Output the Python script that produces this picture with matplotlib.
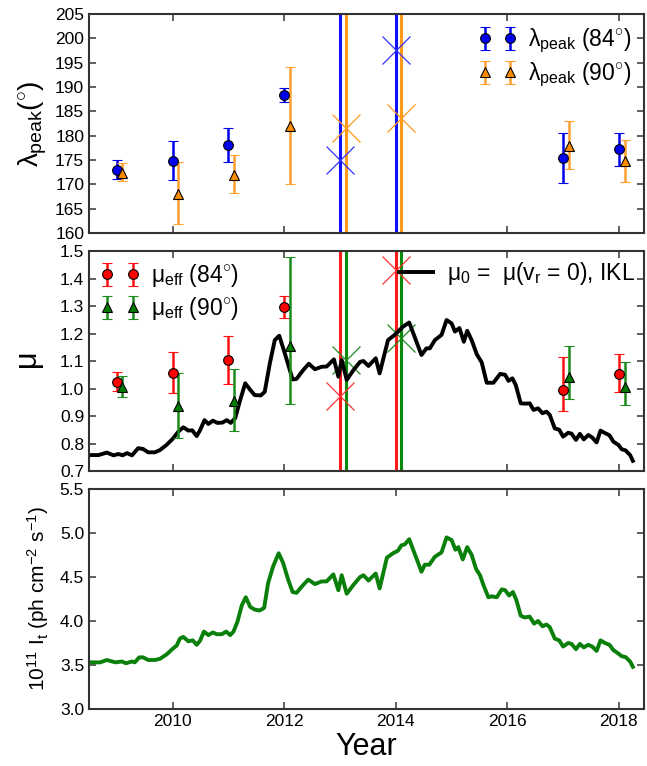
import matplotlib
matplotlib.use("Agg")
import matplotlib.pyplot as plt
import numpy as np

plt.rcParams['font.family'] = ['Liberation Sans', 'DejaVu Sans']
plt.rcParams['mathtext.fontset'] = 'custom'
plt.rcParams['mathtext.rm'] = 'Liberation Sans'
plt.rcParams['mathtext.it'] = 'Liberation Sans'
plt.rcParams['mathtext.bf'] = 'Liberation Sans:bold'

# ---------------- data ----------------
# panel 1: lambda_peak
yrs84 = [2009.0, 2010.0, 2011.0, 2012.0, 2017.0, 2018.0]
lam84 = [173.0, 174.8, 178.0, 188.3, 175.4, 177.2]
lam84_lo = [171.2, 170.8, 174.5, 187.0, 170.3, 173.8]
lam84_hi = [175.0, 179.0, 181.6, 189.8, 180.5, 180.6]
yrs90 = [2009.1, 2010.1, 2011.1, 2012.1, 2017.1, 2018.1]
lam90 = [172.3, 168.0, 172.0, 181.9, 177.9, 174.7]
lam90_lo = [170.6, 161.8, 168.3, 170.0, 173.1, 170.5]
lam90_hi = [174.4, 174.6, 176.0, 194.2, 183.0, 179.2]
xyrs84 = [2013.0, 2014.0]
xlam84 = [175.1, 197.7]
xyrs90 = [2013.1, 2014.1]
xlam90 = [181.6, 183.6]

# panel 2: mu
mu84 = [1.022, 1.057, 1.104, 1.295, 0.994, 1.052]
mu84_lo = [0.99, 0.985, 1.017, 1.255, 0.918, 0.986]
mu84_hi = [1.06, 1.133, 1.19, 1.337, 1.113, 1.124]
mu90 = [1.005, 0.935, 0.955, 1.155, 1.043, 1.007]
mu90_lo = [0.97, 0.82, 0.845, 0.943, 0.961, 0.94]
mu90_hi = [1.045, 1.055, 1.07, 1.48, 1.153, 1.095]
xmu84 = [0.974, 1.431]
xmu90 = [1.104, 1.182]

t_mu = [2008.50, 2008.67, 2008.82, 2008.94, 2009.03, 2009.10, 2009.18, 2009.27, 2009.38, 2009.47,
        2009.56, 2009.68, 2009.77, 2009.89, 2010.01, 2010.10, 2010.19, 2010.28, 2010.35, 2010.43,
        2010.49, 2010.57, 2010.64, 2010.72, 2010.80, 2010.89, 2010.97, 2011.04, 2011.12, 2011.21,
        2011.30, 2011.39, 2011.47, 2011.58, 2011.65, 2011.74, 2011.83, 2011.91, 2012.01, 2012.15,
        2012.22, 2012.34, 2012.44, 2012.55, 2012.67, 2012.76, 2012.89, 2012.97, 2013.03, 2013.12,
        2013.24, 2013.36, 2013.42, 2013.51, 2013.64, 2013.71, 2013.86, 2013.98, 2014.07, 2014.13,
        2014.24, 2014.46, 2014.55, 2014.61, 2014.70, 2014.82, 2014.91, 2015.00, 2015.06, 2015.14,
        2015.22, 2015.28, 2015.36, 2015.45, 2015.54, 2015.63, 2015.75, 2015.87, 2015.96, 2016.02,
        2016.09, 2016.15, 2016.24, 2016.32, 2016.40, 2016.47, 2016.55, 2016.63, 2016.70, 2016.76,
        2016.85, 2016.93, 2017.00, 2017.09, 2017.15, 2017.23, 2017.30, 2017.37, 2017.45, 2017.52,
        2017.60, 2017.67, 2017.75, 2017.83, 2017.90, 2017.99, 2018.05, 2018.12, 2018.20, 2018.25]
mu0 = [0.758, 0.758, 0.767, 0.757, 0.762, 0.757, 0.765, 0.757, 0.783, 0.780,
       0.768, 0.768, 0.776, 0.795, 0.819, 0.843, 0.859, 0.847, 0.848, 0.827,
       0.848, 0.885, 0.871, 0.883, 0.875, 0.876, 0.885, 0.875, 0.892, 0.958,
       1.019, 0.995, 0.976, 0.975, 0.988, 1.090, 1.176, 1.192, 1.128, 1.033,
       1.035, 1.067, 1.090, 1.070, 1.079, 1.080, 1.106, 1.043, 1.104, 1.031,
       1.067, 1.097, 1.100, 1.082, 1.110, 1.055, 1.176, 1.195, 1.213, 1.225,
       1.240, 1.122, 1.146, 1.146, 1.176, 1.195, 1.249, 1.237, 1.207, 1.220,
       1.170, 1.210, 1.176, 1.125, 1.095, 1.021, 1.021, 1.053, 1.050, 1.028,
       1.037, 1.013, 0.946, 0.945, 0.946, 0.922, 0.928, 0.910, 0.916, 0.904,
       0.855, 0.850, 0.825, 0.839, 0.836, 0.813, 0.835, 0.815, 0.831, 0.822,
       0.804, 0.847, 0.838, 0.830, 0.807, 0.795, 0.779, 0.775, 0.758, 0.737]

# panel 3: total intensity
t_it = [2008.50, 2008.70, 2008.82, 2008.97, 2009.09, 2009.16, 2009.27, 2009.32, 2009.40, 2009.47,
        2009.56, 2009.68, 2009.77, 2009.89, 2010.01, 2010.07, 2010.13, 2010.19, 2010.28, 2010.36,
        2010.43, 2010.49, 2010.56, 2010.64, 2010.72, 2010.79, 2010.88, 2010.96, 2011.03, 2011.09,
        2011.16, 2011.24, 2011.31, 2011.39, 2011.47, 2011.56, 2011.64, 2011.71, 2011.80, 2011.90,
        2011.98, 2012.07, 2012.15, 2012.22, 2012.34, 2012.43, 2012.55, 2012.67, 2012.76, 2012.88,
        2012.97, 2013.03, 2013.12, 2013.24, 2013.36, 2013.42, 2013.51, 2013.64, 2013.71, 2013.84,
        2013.95, 2014.04, 2014.10, 2014.16, 2014.24, 2014.46, 2014.52, 2014.60, 2014.70, 2014.82,
        2014.91, 2015.00, 2015.07, 2015.12, 2015.20, 2015.28, 2015.36, 2015.44, 2015.51, 2015.57,
        2015.66, 2015.72, 2015.81, 2015.90, 2015.96, 2016.03, 2016.10, 2016.16, 2016.24, 2016.31,
        2016.40, 2016.48, 2016.55, 2016.63, 2016.70, 2016.76, 2016.85, 2016.93, 2017.00, 2017.09,
        2017.15, 2017.23, 2017.30, 2017.37, 2017.45, 2017.52, 2017.60, 2017.67, 2017.75, 2017.83,
        2017.90, 2017.99, 2018.05, 2018.12, 2018.20, 2018.25]
It = [3.53, 3.53, 3.557, 3.53, 3.54, 3.52, 3.54, 3.53, 3.587, 3.587,
      3.557, 3.557, 3.57, 3.62, 3.69, 3.72, 3.80, 3.82, 3.77, 3.78,
      3.73, 3.776, 3.88, 3.84, 3.87, 3.85, 3.85, 3.88, 3.84, 3.88,
      3.99, 4.18, 4.27, 4.16, 4.13, 4.12, 4.15, 4.43, 4.62, 4.77,
      4.66, 4.47, 4.33, 4.32, 4.41, 4.47, 4.42, 4.45, 4.45, 4.53,
      4.35, 4.52, 4.31, 4.41, 4.50, 4.52, 4.46, 4.54, 4.37, 4.72,
      4.77, 4.80, 4.86, 4.87, 4.93, 4.56, 4.64, 4.64, 4.73, 4.78,
      4.95, 4.92, 4.81, 4.84, 4.70, 4.84, 4.75, 4.59, 4.52, 4.41,
      4.27, 4.28, 4.27, 4.36, 4.35, 4.29, 4.33, 4.24, 4.06, 4.04,
      4.05, 3.97, 4.00, 3.94, 3.96, 3.93, 3.80, 3.78, 3.71, 3.75,
      3.74, 3.68, 3.74, 3.70, 3.73, 3.71, 3.66, 3.78, 3.75, 3.73,
      3.67, 3.63, 3.60, 3.59, 3.54, 3.48]

vlines84 = [2013.0, 2014.0]
vlines90 = [2013.1, 2014.1]

# ---------------- figure ----------------
fig = plt.figure(figsize=(6.47, 7.66), dpi=100)
L, R = 0.1376, 0.9954
ax1 = fig.add_axes([L, 0.6958, R - L, 0.9817 - 0.6958])
ax2 = fig.add_axes([L, 0.3851, R - L, 0.6723 - 0.3851])
ax3 = fig.add_axes([L, 0.0744, R - L, 0.3616 - 0.0744])

xlim = (2008.5, 2018.45)
for ax in (ax1, ax2, ax3):
    ax.set_xlim(*xlim)
    ax.set_xticks([2010, 2012, 2014, 2016, 2018])
    ax.tick_params(direction='in', top=True, right=True, length=5, width=1.2,
                   labelsize=12.5, color='#444444')
    for s in ax.spines.values():
        s.set_linewidth(1.5)
        s.set_color('#333333')
for ax in (ax1, ax2):
    ax.tick_params(labelbottom=False)

def errs(v, lo, hi):
    v = np.asarray(v); return [v - np.asarray(lo), np.asarray(hi) - v]

ms = 7.0
# ---- panel 1 ----
for x in vlines84:
    ax1.axvline(x, color='#1010FF', lw=2.2)
for x in vlines90:
    ax1.axvline(x, color='#FF9A1A', lw=2.2)
ax1.plot(xyrs84, xlam84, 'x', color='#3333FF', ms=20, mew=0.9)
ax1.plot(xyrs90, xlam90, 'x', color='#FF9A1A', ms=20, mew=0.9)
ax1.errorbar(yrs84, lam84, yerr=errs(lam84, lam84_lo, lam84_hi), fmt='o', color='#0000EE',
             mfc='#0000EE', mec='black', mew=0.8, ms=ms, elinewidth=1.8, capsize=3.5,
             capthick=1.2, label=r'$\lambda_{\rm peak}$ (84$^{\circ}$)')
ax1.errorbar(yrs90, lam90, yerr=errs(lam90, lam90_lo, lam90_hi), fmt='^', color='#FFA030',
             mfc='#FF8C00', mec='black', mew=0.8, ms=ms, elinewidth=1.8, capsize=3.5,
             capthick=1.2, label=r'$\lambda_{\rm peak}$ (90$^{\circ}$)')
ax1.set_ylim(160, 205)
ax1.set_yticks(np.arange(160, 206, 5))
ax1.set_ylabel(r'$\lambda_{\rm peak}(^{\circ})$', fontsize=20, labelpad=4)
ax1.legend(loc='upper right', numpoints=2, frameon=False, fontsize=16.5,
           handlelength=1.7, borderaxespad=0.15, handletextpad=0.5, labelspacing=0.25)

# ---- panel 2 ----
for x in vlines84:
    ax2.axvline(x, color='#FF1A1A', lw=2.2)
for x in vlines90:
    ax2.axvline(x, color='#0A8A0A', lw=2.2)
ax2.plot(xyrs84, xmu84, 'x', color='#FF3333', ms=20, mew=0.9)
ax2.plot(xyrs90, xmu90, 'x', color='#1E8C1E', ms=20, mew=0.9)
line, = ax2.plot(t_mu, mu0, color='black', lw=2.8, label=r'$\mu_0$ =  $\mu$($v_r$ = 0), IKL')
e1 = ax2.errorbar(yrs84, mu84, yerr=errs(mu84, mu84_lo, mu84_hi), fmt='o', color='#FF1010',
                  mfc='#FF0000', mec='black', mew=0.8, ms=ms, elinewidth=1.8, capsize=3.5,
                  capthick=1.2, label=r'$\mu_{\rm eff}$ (84$^{\circ}$)')
e2 = ax2.errorbar(yrs90, mu90, yerr=errs(mu90, mu90_lo, mu90_hi), fmt='^', color='#1A8C1A',
                  mfc='#007A00', mec='black', mew=0.8, ms=ms, elinewidth=1.8, capsize=3.5,
                  capthick=1.2, label=r'$\mu_{\rm eff}$ (90$^{\circ}$)')
ax2.set_ylim(0.7, 1.5)
ax2.set_yticks(np.arange(0.7, 1.51, 0.1))
ax2.set_yticklabels(['%.1f' % v for v in np.arange(0.7, 1.51, 0.1)])
ax2.set_ylabel(r'$\mu$', fontsize=22, labelpad=10)
leg_a = ax2.legend(handles=[e1, e2], loc='upper left', numpoints=2, frameon=False, fontsize=16.5,
                   handlelength=1.7, borderaxespad=0.1, handletextpad=0.5, labelspacing=0.25)
ax2.add_artist(leg_a)
ax2.legend(handles=[line], loc='upper right', frameon=False, fontsize=16.5,
           handlelength=1.5, borderaxespad=0.0, handletextpad=0.6)

# ---- panel 3 ----
ax3.plot(t_it, It, color='#0A800A', lw=2.8)
ax3.set_ylim(3.0, 5.5)
ax3.set_yticks(np.arange(3.0, 5.51, 0.5))
ax3.set_yticklabels(['%.1f' % v for v in np.arange(3.0, 5.51, 0.5)])
ax3.set_ylabel(r'10$^{11}$ I$_{\rm t}$ (ph cm$^{-2}$ s$^{-1}$)', fontsize=15, labelpad=6)
ax3.set_xlabel('Year', fontsize=22, labelpad=2)

fig.savefig('out.png', dpi=100)
